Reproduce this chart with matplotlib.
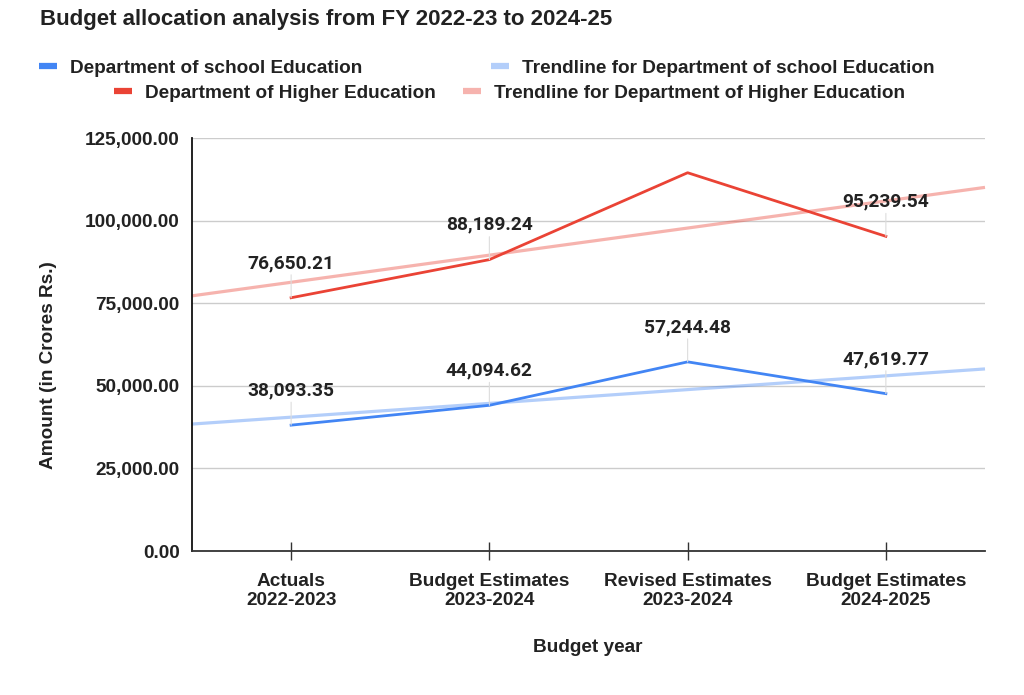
import numpy as np
import matplotlib
matplotlib.use('Agg')
import matplotlib.pyplot as plt
from matplotlib.lines import Line2D
from matplotlib.ticker import FuncFormatter

plt.rcParams['font.family'] = ['Liberation Sans', 'DejaVu Sans']

# data
categories = ['Actuals\n2022-2023', 'Budget Estimates\n2023-2024',
              'Revised Estimates\n2023-2024', 'Budget Estimates\n2024-2025']
school_edu = [38093.35, 44094.62, 57244.48, 47619.77]
higher_edu = [76650.21, 88189.24, 114488.96, 95239.54]
# which points carry a value label
school_labelled = [0, 1, 2, 3]
higher_labelled = [0, 1, 3]

blue = '#4285F4'
red = '#EA4335'
txt = '#222222'
fs = 13.7

fig = plt.figure(figsize=(10.24, 6.95), dpi=100)
ax = fig.add_axes([192 / 1024, 1 - 551 / 695, (985 - 192) / 1024, (551 - 138) / 695])

x = np.arange(len(categories))
x_span = np.array([-0.5, len(categories) - 0.5])

# linear trendlines, fitted the same way the sheet does it
for vals, col in [(school_edu, blue), (higher_edu, red)]:
    k, b = np.polyfit(x, vals, 1)
    ax.plot(x_span, k * x_span + b, color=col, alpha=0.4, lw=2.3,
            solid_capstyle='butt', zorder=2, clip_on=False)

ax.plot(x, school_edu, color=blue, lw=2, zorder=3)
ax.plot(x, higher_edu, color=red, lw=2, zorder=3)

for vals, idx in [(school_edu, school_labelled), (higher_edu, higher_labelled)]:
    for i in idx:
        ax.annotate('{:,.2f}'.format(vals[i]), xy=(x[i], vals[i]),
                    xytext=(0, 25), textcoords='offset points',
                    ha='center', va='center', fontsize=13.8,
                    family=['Roboto', 'DejaVu Sans'], fontweight='bold',
                    color=txt, zorder=4,
                    arrowprops=dict(arrowstyle='-', color='#dddddd', lw=0.8,
                                    shrinkA=0, shrinkB=0))

ax.set_xlim(-0.5, len(categories) - 0.5)
ax.set_ylim(0, 125000)
ax.set_yticks(np.arange(0, 125001, 25000))
ax.yaxis.set_major_formatter(FuncFormatter(lambda v, p: '{:,.2f}'.format(v)))
ax.set_xticks(x)
ax.set_xticklabels(categories)

ax.grid(axis='y', color='#cccccc', lw=1)
ax.set_axisbelow(True)
for s in ['top', 'right']:
    ax.spines[s].set_visible(False)
ax.spines['left'].set_color('#111111')
ax.spines['bottom'].set_color('#333333')
ax.spines['left'].set_linewidth(1.3)
ax.spines['bottom'].set_linewidth(1.3)

ax.tick_params(axis='y', length=0, pad=9, labelsize=fs)
ax.tick_params(axis='x', direction='inout', length=13, width=1, color='#333333',
               pad=9, labelsize=fs)
for lab in ax.get_xticklabels() + ax.get_yticklabels():
    lab.set_fontweight('bold')
    lab.set_color(txt)

# axis titles sit where the sheet put them, not centred on the axes
fig.text(49 / 1024, 1 - 365 / 695, 'Amount (in Crores Rs.)', rotation=90,
         fontsize=fs, fontweight='bold', color=txt, ha='center', va='center')
fig.text(588 / 1024, 1 - 647 / 695, 'Budget year',
         fontsize=fs, fontweight='bold', color=txt, ha='center', va='center')

fig.text(40 / 1024, 1 - 19 / 695, 'Budget allocation analysis from FY 2022-23 to 2024-25',
         fontsize=16, fontweight='bold', va='center', ha='left', color=txt)

# legend entries are placed one by one, the way the sheet wraps them
legend_items = [
    ('Department of school Education', blue, 1.0, 39, 68),
    ('Trendline for Department of school Education', blue, 0.4, 491, 68),
    ('Department of Higher Education', red, 1.0, 114, 93),
    ('Trendline for Department of Higher Education', red, 0.4, 463, 93),
]
for name, col, a, px, py in legend_items:
    h = Line2D([], [], color=col, alpha=a, lw=4.5, solid_capstyle='butt')
    leg = fig.legend([h], [name], loc='center left',
                     bbox_to_anchor=(px / 1024, 1 - py / 695),
                     frameon=False, borderpad=0, borderaxespad=0,
                     handlelength=0.95, handletextpad=0.68,
                     prop={'size': fs, 'weight': 'bold'})
    for t in leg.get_texts():
        t.set_color(txt)

fig.savefig('out.png', dpi=100)
